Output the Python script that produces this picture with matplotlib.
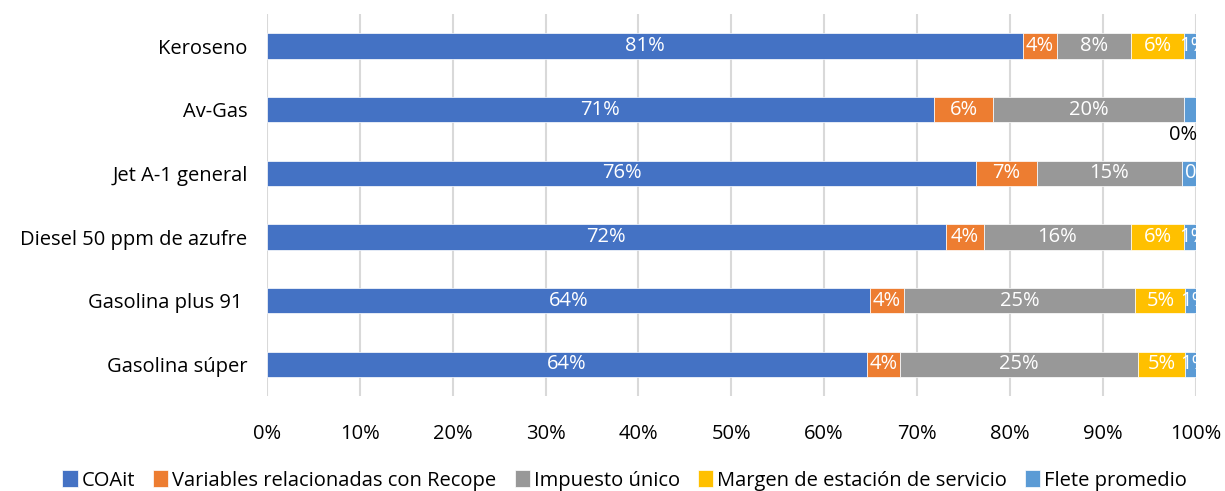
import numpy as np
import matplotlib.pyplot as plt

categories = ["Gasolina súper", "Gasolina plus 91 ", "Diesel 50 ppm de azufre",
              "Jet A-1 general", "Av-Gas", "Keroseno"]
series_names = ["COAit", "Variables relacionadas con Recope", "Impuesto único",
                "Margen de estación de servicio", "Flete promedio"]
coait = [64.6, 64.9, 73.1, 76.4, 71.8, 81.4]
recope = [3.6, 3.7, 4.1, 6.5, 6.4, 3.7]
impuesto = [25.6, 24.9, 15.8, 15.6, 20.5, 7.9]
margen = [5.1, 5.4, 5.8, 0.0, 0.0, 5.8]
flete = [1.1, 1.1, 1.2, 1.5, 1.3, 1.2]
# data labels as printed in the chart
coait_lbl = ["64%", "64%", "72%", "76%", "71%", "81%"]
recope_lbl = ["4%", "4%", "4%", "7%", "6%", "4%"]
impuesto_lbl = ["25%", "25%", "16%", "15%", "20%", "8%"]
margen_lbl = ["5%", "5%", "6%", "", "", "6%"]
flete_lbl = ["1%", "1%", "1%", "0", "", "1%"]
colors = ["#4472C4", "#ED7D31", "#989898", "#FFC000", "#5B9BD5"]

plt.rcParams['font.family'] = ['Open Sans', 'DejaVu Sans']
fs = 14.5

fig = plt.figure(figsize=(12.25, 4.91), dpi=100)
ax = fig.add_axes([0.218, 0.193, 0.758, 0.778])

y = np.arange(len(categories))
left = np.zeros(len(categories))
all_vals = [coait, recope, impuesto, margen, flete]
all_lbls = [coait_lbl, recope_lbl, impuesto_lbl, margen_lbl, flete_lbl]
for name, vals, lbls, c in zip(series_names, all_vals, all_lbls, colors):
    vals = np.array(vals)
    ax.barh(y, vals, left=left, height=0.4, color=c, label=name,
            edgecolor="white", linewidth=0.5, zorder=3)
    for yi, l, v, t in zip(y, left, vals, lbls):
        if not t:
            continue
        x = l + v / 2
        if name == "Flete promedio":
            x = l + 1.0
        ax.text(x, yi, t, ha="center", va="center", color="white",
                fontsize=fs, zorder=4, clip_on=False)
    left += vals

# label of the empty margin segment of Av-Gas, drawn below the bar
ax.text(98.6, 4 - 0.4, "0%", ha="center", va="center", color="black", fontsize=fs)

ax.set_xlim(0, 100)
ax.set_ylim(-0.5, 5.5)
ax.set_xticks(np.arange(0, 101, 10))
ax.set_xticklabels([f"{v}%" for v in range(0, 101, 10)], fontsize=fs)
ax.set_yticks(y)
ax.set_yticklabels(categories, fontsize=fs)
ax.tick_params(axis="x", length=0, pad=20)
ax.tick_params(axis="y", length=0, pad=14)
ax.grid(axis="x", color="#D9D9D9", linewidth=1.5, zorder=0)
for s in ax.spines.values():
    s.set_visible(False)

fig.legend(loc="center", bbox_to_anchor=(0.51, 0.022), ncol=5, frameon=False,
           fontsize=fs, handlelength=0.75, handleheight=0.95, handletextpad=0.2,
           columnspacing=0.9, borderpad=0)

fig.savefig("out.png", dpi=100)
